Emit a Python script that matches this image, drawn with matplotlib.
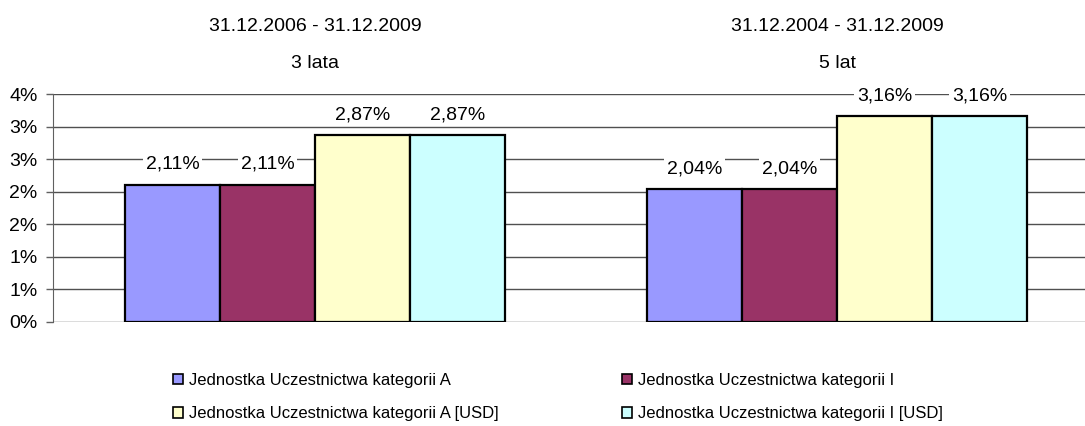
import matplotlib
matplotlib.use("Agg")
import matplotlib.pyplot as plt
from matplotlib.patches import Patch
import numpy as np

plt.rcParams.update({
    "font.family": ["Liberation Sans", "DejaVu Sans"],
})

periods = ["31.12.2006 - 31.12.2009", "31.12.2004 - 31.12.2009"]
horizons = ["3 lata", "5 lat"]
series = [
    "Jednostka Uczestnictwa kategorii A",
    "Jednostka Uczestnictwa kategorii I",
    "Jednostka Uczestnictwa kategorii A [USD]",
    "Jednostka Uczestnictwa kategorii I [USD]",
]
values = [
    [2.11, 2.04],
    [2.11, 2.04],
    [2.87, 3.16],
    [2.87, 3.16],
]
colors = ["#9999FF", "#993366", "#FFFFCC", "#CCFFFF"]
yticks = [0, 0.5, 1, 1.5, 2, 2.5, 3, 3.5]
ytick_labels = ["0%", "1%", "1%", "2%", "2%", "3%", "3%", "4%"]

fig = plt.figure(figsize=(10.85, 4.26), dpi=100)
ax = fig.add_axes([53 / 1085, 104 / 426, 1 - 53 / 1085, 228 / 426])

x = np.arange(len(periods))
w = 0.182
for i, (name, vals, c) in enumerate(zip(series, values, colors)):
    xs = x + (i - 1.5) * w
    ax.bar(xs, vals, width=w, color=c, edgecolor="black", linewidth=1.6,
           zorder=3, label=name)
    for xi, v in zip(xs, vals):
        ax.annotate(f"{v:.2f}%".replace(".", ","), (xi, v), xytext=(0, 14.5),
                    textcoords="offset points", ha="center", va="center",
                    fontsize=14, zorder=5,
                    bbox=dict(boxstyle="square,pad=0.15", fc="white", ec="none"))

ax.set_xlim(-0.502, 1.475)
ax.set_ylim(0, 3.5)
ax.set_yticks(yticks)
ax.set_yticklabels(ytick_labels, fontsize=14)
ax.set_xticks([])
ax.tick_params(axis="y", length=5, width=1, color="#606060", pad=6)
ax.yaxis.grid(True, color="#505050", linewidth=1, zorder=0)
ax.set_axisbelow(True)
for s in ("top", "right", "bottom"):
    ax.spines[s].set_visible(False)
ax.spines["left"].set_color("#606060")

trans = ax.get_xaxis_transform()
for xi, p, h in zip(x, periods, horizons):
    ax.text(xi, (426 - 26 - 104) / 228, p, transform=trans, ha="center",
            va="center", fontsize=14)
    ax.text(xi, (426 - 63 - 104) / 228, h, transform=trans, ha="center",
            va="center", fontsize=14)

handles = [Patch(facecolor=c, edgecolor="black", linewidth=1.2) for c in colors]
leg_kw = dict(frameon=False, handlelength=0.6, handleheight=0.6,
              handletextpad=0.35, labelspacing=1.1, loc="upper left",
              prop={"size": 12}, borderaxespad=0, borderpad=0)
fig.legend([handles[0], handles[2]], [series[0], series[2]],
           bbox_to_anchor=(173 / 1085, 1 - 373 / 426), **leg_kw)
fig.legend([handles[1], handles[3]], [series[1], series[3]],
           bbox_to_anchor=(622 / 1085, 1 - 373 / 426), **leg_kw)

fig.savefig("out.png", dpi=100)
